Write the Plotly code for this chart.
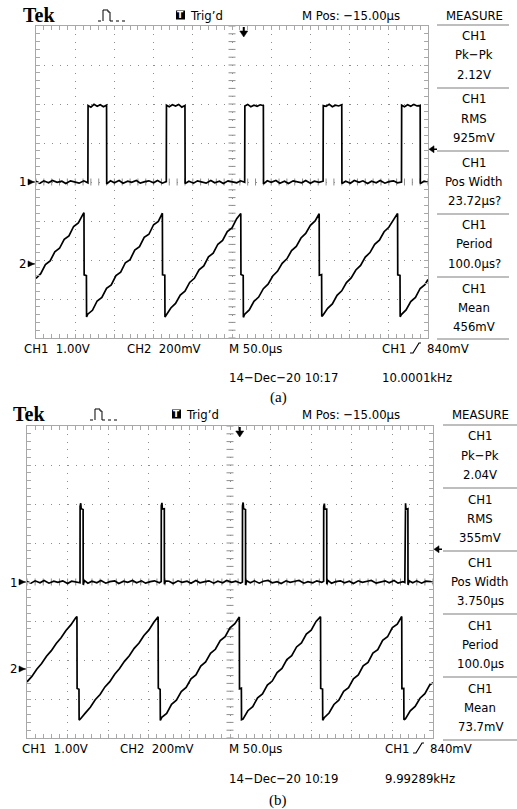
import numpy as np
import plotly.graph_objects as go

W, H = 517, 809

# ---------------- captured screen (a): rectangular pulse + sawtooth ----------------
# CH1: time (us) / volts
a_ch1_t = [0, 5, 10, 16, 21, 27, 33, 38, 44, 50, 55, 61, 66.2,
           66.4, 70, 74, 78, 82, 86, 90.0,
           90.2, 95, 100, 106, 111, 117, 122, 128, 133, 139, 144, 150, 155, 161, 166.2,
           166.4, 170, 174, 178, 182, 186, 190.0,
           190.2, 195, 201, 206, 212, 217, 223, 228, 234, 239, 245, 250, 256, 261, 266.2,
           266.4, 270, 274, 278, 282, 286, 290.0,
           290.2, 295, 300, 306, 311, 317, 322, 328, 333, 339, 344, 350, 355, 361, 366.2,
           366.4, 370, 374, 378, 382, 386, 390.0,
           390.2, 395, 401, 406, 412, 417, 423, 428, 434, 439, 445, 450, 456, 461, 466.2,
           466.4, 470, 474, 478, 482, 486, 490.0,
           490.2, 495, 500]
a_ch1_v = [0.02, -0.03, 0.03, -0.02, 0.04, -0.01, 0.02, -0.04, 0.03, 0.00, -0.03, 0.03, -0.02,
           1.96, 1.92, 1.99, 1.94, 1.98, 1.93, 1.97,
           -0.05, 0.03, -0.02, 0.04, -0.03, 0.02, -0.01, 0.04, -0.03, 0.01, 0.03, -0.02, 0.04, -0.03, 0.01,
           1.97, 1.93, 1.98, 1.95, 1.99, 1.92, 1.96,
           -0.04, 0.02, -0.03, 0.03, 0.00, -0.03, 0.04, -0.02, 0.02, -0.04, 0.03, 0.01, -0.02, 0.03, -0.01,
           1.95, 1.99, 1.93, 1.97, 1.94, 1.98, 1.96,
           -0.05, 0.03, -0.01, 0.04, -0.03, 0.02, -0.04, 0.03, 0.00, -0.02, 0.04, -0.03, 0.02, -0.01, 0.02,
           1.96, 1.94, 1.99, 1.93, 1.97, 1.95, 1.98,
           -0.04, 0.02, -0.03, 0.04, -0.01, 0.03, -0.04, 0.02, -0.02, 0.04, -0.03, 0.01, 0.03, -0.02, 0.00,
           1.97, 1.93, 1.98, 1.94, 1.99, 1.95, 1.96,
           -0.04, 0.02, -0.01]

# CH2: time (us) / volts
a_ch2_t = [0, 6, 12, 18, 24, 30, 36, 42, 48, 54, 60, 61.2,
           61.4, 64.3, 64.5,
           66, 72, 78, 84, 90, 96, 102, 108, 114, 120, 126, 132, 138, 144, 150, 156, 161.2,
           161.4, 164.3, 164.5,
           166, 172, 178, 184, 190, 196, 202, 208, 214, 220, 226, 232, 238, 244, 250, 256, 261.2,
           261.4, 264.3, 264.5,
           266, 272, 278, 284, 290, 296, 302, 308, 314, 320, 326, 332, 338, 344, 350, 356, 361.2,
           361.4, 364.3, 364.5,
           366, 372, 378, 384, 390, 396, 402, 408, 414, 420, 426, 432, 438, 444, 450, 456, 461.2,
           461.4, 464.3, 464.5,
           466, 472, 478, 484, 490, 496, 500]
a_ch2_v = [-0.075, -0.050, -0.004, 0.015, 0.062, 0.080, 0.126, 0.144, 0.192, 0.210, 0.255, 0.262,
           -0.056, -0.060, -0.272,
           -0.258, -0.238, -0.190, -0.172, -0.125, -0.108, -0.060, -0.042, 0.006, 0.022, 0.071, 0.088,
           0.136, 0.152, 0.201, 0.218, 0.260,
           -0.056, -0.058, -0.272,
           -0.262, -0.226, -0.203, -0.160, -0.140, -0.095, -0.074, -0.030, -0.010, 0.036, 0.055, 0.101,
           0.120, 0.166, 0.185, 0.232, 0.258,
           -0.054, -0.060, -0.274,
           -0.259, -0.236, -0.192, -0.170, -0.127, -0.104, -0.062, -0.038, 0.003, 0.026, 0.068, 0.090,
           0.133, 0.156, 0.198, 0.220, 0.257,
           -0.058, -0.055, -0.270,
           -0.263, -0.228, -0.205, -0.161, -0.138, -0.096, -0.072, -0.031, -0.008, 0.035, 0.058, 0.100,
           0.122, 0.165, 0.188, 0.230, 0.259,
           -0.056, -0.059, -0.271,
           -0.260, -0.236, -0.193, -0.172, -0.126, -0.107, -0.080]

# ---------------- captured screen (b): narrow pulse + sawtooth ----------------
b_ch1_t = [0, 5, 10, 16, 21, 27, 33, 38, 44, 50, 55, 60, 65.3,
           65.4, 66.2, 66.7, 69.1, 69.2, 70.5,
           75, 80, 86, 91, 97, 102, 108, 113, 119, 124, 130, 135, 141, 146, 152, 157, 163, 165.3,
           165.4, 166.2, 166.7, 169.1, 169.2, 170.5,
           175, 180, 186, 191, 197, 202, 208, 213, 219, 224, 230, 235, 241, 246, 252, 257, 263, 265.3,
           265.4, 266.2, 266.7, 269.1, 269.2, 270.5,
           275, 280, 286, 291, 297, 302, 308, 313, 319, 324, 330, 335, 341, 346, 352, 357, 363, 365.3,
           365.4, 366.2, 366.7, 369.1, 369.2, 370.5,
           375, 380, 386, 391, 397, 402, 408, 413, 419, 424, 430, 435, 441, 446, 452, 457, 463, 465.3,
           465.4, 466.2, 466.7, 469.1, 469.2, 470.5,
           475, 480, 486, 491, 497, 500]
b_ch1_v = [0.01, -0.03, 0.03, -0.02, 0.04, -0.03, 0.02, -0.01, 0.03, -0.04, 0.02, 0.00, -0.02,
           1.94, 2.02, 1.88, 1.86, -0.07, 0.04,
           -0.03, 0.02, -0.02, 0.04, -0.03, 0.01, 0.03, -0.04, 0.02, -0.01, 0.04, -0.02, 0.03, -0.03,
           0.01, 0.03, -0.02, 0.01,
           1.96, 2.03, 1.87, 1.88, -0.06, 0.03,
           0.02, -0.04, 0.03, -0.01, 0.02, -0.03, 0.04, -0.02, 0.01, 0.03, -0.03, 0.02, -0.02, 0.04,
           -0.01, 0.02, -0.03, 0.00,
           1.95, 2.04, 1.88, 1.86, -0.08, 0.03,
           -0.02, 0.03, -0.03, 0.02, 0.04, -0.02, 0.01, -0.04, 0.03, -0.01, 0.02, 0.04, -0.03, 0.01,
           -0.02, 0.03, -0.01, 0.02,
           1.93, 2.01, 1.87, 1.87, -0.06, 0.04,
           -0.03, 0.01, 0.03, -0.02, 0.02, -0.04, 0.03, -0.01, 0.02, 0.04, -0.03, 0.00, 0.03, -0.02,
           0.04, -0.03, 0.01, -0.01,
           1.96, 2.02, 1.86, 1.88, -0.07, 0.03,
           -0.02, 0.03, -0.03, 0.02, 0.01, -0.02]

b_ch2_t = [0, 6, 12, 18, 24, 30, 36, 42, 48, 54, 60, 61.5,
           61.7, 64.0, 64.2,
           66, 72, 78, 84, 90, 96, 102, 108, 114, 120, 126, 132, 138, 144, 150, 156, 161.5,
           161.7, 164.0, 164.2,
           166, 172, 178, 184, 190, 196, 202, 208, 214, 220, 226, 232, 238, 244, 250, 256, 261.5,
           261.7, 264.0, 264.2,
           266, 272, 278, 284, 290, 296, 302, 308, 314, 320, 326, 332, 338, 344, 350, 356, 361.5,
           361.7, 364.0, 364.2,
           366, 372, 378, 384, 390, 396, 402, 408, 414, 420, 426, 432, 438, 444, 450, 456, 461.5,
           461.7, 464.0, 464.2,
           466, 472, 478, 484, 490, 496, 500]
b_ch2_v = [-0.066, -0.038, -0.001, 0.028, 0.065, 0.094, 0.131, 0.160, 0.197, 0.226, 0.263, 0.269,
           -0.100, -0.104, -0.262,
           -0.255, -0.225, -0.196, -0.158, -0.131, -0.092, -0.065, -0.027, 0.002, 0.039, 0.068, 0.106,
           0.133, 0.172, 0.199, 0.238, 0.268,
           -0.098, -0.105, -0.264,
           -0.248, -0.228, -0.181, -0.160, -0.116, -0.095, -0.050, -0.030, 0.015, 0.036, 0.080, 0.101,
           0.146, 0.166, 0.211, 0.232, 0.266,
           -0.102, -0.099, -0.260,
           -0.257, -0.214, -0.193, -0.148, -0.128, -0.083, -0.062, -0.018, 0.003, 0.048, 0.068, 0.113,
           0.134, 0.179, 0.199, 0.244, 0.268,
           -0.100, -0.103, -0.263,
           -0.250, -0.226, -0.182, -0.160, -0.115, -0.096, -0.050, -0.031, 0.016, 0.034, 0.081, 0.099,
           0.147, 0.165, 0.212, 0.230, 0.269,
           -0.101, -0.100, -0.261,
           -0.256, -0.215, -0.192, -0.150, -0.127, -0.082, -0.071]

# Readouts shown on each screen
measure_a = [("CH1", "Pk−Pk", "2.12V"), ("CH1", "RMS", "925mV"), ("CH1", "Pos Width", "23.72µs?"),
             ("CH1", "Period", "100.0µs?"), ("CH1", "Mean", "456mV")]
measure_b = [("CH1", "Pk−Pk", "2.04V"), ("CH1", "RMS", "355mV"), ("CH1", "Pos Width", "3.750µs"),
             ("CH1", "Period", "100.0µs"), ("CH1", "Mean", "73.7mV")]
status_a = {"ch1": "CH1  1.00V", "ch2": "CH2  200mV", "time": "M 50.0µs", "trig": "840mV",
            "date": "14−Dec−20 10:17", "freq": "10.0001kHz", "caption": "(a)"}
status_b = {"ch1": "CH1  1.00V", "ch2": "CH2  200mV", "time": "M 50.0µs", "trig": "840mV",
            "date": "14−Dec−20 10:19", "freq": "9.99289kHz", "caption": "(b)"}

for t, v in ((a_ch1_t, a_ch1_v), (a_ch2_t, a_ch2_v), (b_ch1_t, b_ch1_v), (b_ch2_t, b_ch2_v)):
    assert len(t) == len(v)

CH1_SCALE = 1.0   # V/div
CH2_SCALE = 0.2   # V/div
TRIG_LEVEL = 0.84  # V

SCOPE_FONT = "Liberation Sans Narrow, Arial Narrow, DejaVu Sans Condensed, Liberation Sans, sans-serif"
SERIF = "Liberation Serif, Times New Roman, serif"
GRID = "#8e8e8e"
BORDER = "#a8a8a8"


def px(x):
    return x / W


def py(y):
    return 1 - y / H


def ppath(pts, close=False):
    s = "M" + " L".join(f"{px(x):.5f},{py(y):.5f}" for x, y in pts)
    return s + (" Z" if close else "")


fig = go.Figure()
shapes = []
annotations = []


def text(x, y, s, size=13, xanchor="left", family=SCOPE_FONT, color="black"):
    annotations.append(dict(x=px(x), y=py(y), xref="paper", yref="paper", text=s, showarrow=False,
                            xanchor=xanchor, yanchor="middle", font=dict(family=family, size=size, color=color)))


def seg(x0, y0, x1, y1, color="black", width=1, dash=None):
    line = dict(color=color, width=width)
    if dash:
        line["dash"] = dash
    shapes.append(dict(type="line", xref="paper", yref="paper", x0=px(x0), y0=py(y0),
                       x1=px(x1), y1=py(y1), line=line))


def filled(pts, color="black"):
    shapes.append(dict(type="path", xref="paper", yref="paper", path=ppath(pts, True),
                       line=dict(color=color, width=0.5), fillcolor=color))


def panel(p):
    xa, ya, ya2 = p["xaxis"], p["yaxis"], p["yaxis2"]
    x0, x1, y0, y1 = p["box"]
    dx = (x1 - x0) / 10.0
    dy = (y1 - y0) / 8.0
    off = p["ch2_offset"]

    axis_common = dict(showgrid=True, gridcolor=GRID, gridwidth=1, showline=True, linecolor=BORDER,
                       linewidth=1, mirror="ticks", ticks="inside", ticklen=4, tickcolor=BORDER,
                       tickwidth=1, showticklabels=False, zeroline=False, fixedrange=True)
    fig.layout[xa] = dict(domain=[px(x0), px(x1)], range=[0, 500], tick0=0, dtick=50,
                          griddash=f"1px,{dy / 5 - 1:.2f}px", anchor=p["yref"],
                          minor=dict(dtick=10, tick0=0, ticks="inside", ticklen=4, tickcolor=BORDER,
                                     showgrid=False), **axis_common)
    fig.layout[ya] = dict(domain=[py(y1), py(y0)], range=[-4 * CH1_SCALE, 4 * CH1_SCALE], tick0=0,
                          dtick=CH1_SCALE, griddash=f"1px,{dx / 5 - 1:.2f}px", anchor=p["xref"],
                          minor=dict(dtick=CH1_SCALE / 5, tick0=0, ticks="inside", ticklen=4,
                                     tickcolor=BORDER, showgrid=False), **axis_common)
    fig.layout[ya2] = dict(overlaying=p["yref"], anchor=p["xref"], visible=False, fixedrange=True,
                           range=[(-4 - off) * CH2_SCALE, (4 - off) * CH2_SCALE])

    # centre cross graduations (short dashes every fifth of a division)
    gv = [float(k) for k in np.arange(-4, 4.001, 0.2)]
    fig.add_trace(go.Scatter(x=[250.0] * len(gv), y=gv, xaxis=p["xref"], yaxis=p["yref"], mode="markers",
                             marker=dict(symbol="line-ew", size=5, color=GRID, line=dict(color=GRID, width=1)),
                             hoverinfo="skip", showlegend=False))
    gh = [float(k) for k in np.arange(0, 500.1, 10)]
    fig.add_trace(go.Scatter(x=gh, y=[0.0] * len(gh), xaxis=p["xref"], yaxis=p["yref"], mode="markers",
                             marker=dict(symbol="line-ns", size=5, color=GRID, line=dict(color=GRID, width=1)),
                             hoverinfo="skip", showlegend=False))

    # waveforms
    fig.add_trace(go.Scatter(x=p["ch1"][0], y=p["ch1"][1], xaxis=p["xref"], yaxis=p["yref"],
                             mode="lines", line=dict(color="black", width=1.7), hoverinfo="skip",
                             showlegend=False))
    fig.add_trace(go.Scatter(x=p["ch2"][0], y=p["ch2"][1], xaxis=p["xref"], yaxis=p["y2ref"],
                             mode="lines", line=dict(color="black", width=1.7), hoverinfo="skip",
                             showlegend=False))

    # channel ground markers
    gy1 = y0 + 4 * dy
    gy2 = y0 + (4 - off) * dy
    for label, gy in (("1", gy1), ("2", gy2)):
        text(x0 - 8, gy, label, size=13, xanchor="right")
        filled([(x0 - 8, gy - 3), (x0 - 2, gy), (x0 - 8, gy + 3)])
        seg(x0 - 8, gy, x0 - 1, gy, width=1)

    # trigger position (top) and trigger level (right edge)
    tx = x0 + p["trig_t"] / 50 * dx
    seg(tx, y0 + 1, tx, y0 + 6, width=2)
    filled([(tx - 4, y0 + 5), (tx + 4, y0 + 5), (tx, y0 + 11)])
    ly = gy1 - TRIG_LEVEL / CH1_SCALE * dy
    filled([(x1 + 1, ly), (x1 + 6, ly - 3.5), (x1 + 6, ly + 3.5)])
    seg(x1 + 5, ly, x1 + 9, ly, width=1.5)

    # header
    hy = p["header_y"]
    text(p["tek_x"], hy, "<b>Tek</b>", size=20, family=SERIF)
    ix = p["icon_x"]
    seg(ix, hy + 6, ix + 5, hy + 6, width=1, dash="dot")
    shapes.append(dict(type="path", xref="paper", yref="paper",
                       path=ppath([(ix + 5, hy + 6), (ix + 5, hy - 5), (ix + 10, hy - 5), (ix + 10, hy - 3),
                                   (ix + 12, hy - 3), (ix + 12, hy + 6)]),
                       line=dict(color="black", width=1)))
    seg(ix + 12, hy + 6, ix + 28, hy + 6, width=1, dash="dot")
    sx = p["trigd_x"]
    shapes.append(dict(type="rect", xref="paper", yref="paper", x0=px(sx), x1=px(sx + 9),
                       y0=py(hy + 4.5), y1=py(hy - 4.5), fillcolor="black", line=dict(width=0)))
    text(sx + 4.5, hy, "<b>T</b>", size=9, xanchor="center", family="DejaVu Sans", color="white")
    text(sx + 12, hy, "Trig’d", size=13)
    text(300, hy, "M Pos: −15.00µs", size=13)
    mx = p["measure_x"]
    text(mx, hy, "MEASURE", size=13, xanchor="center")

    # measurement readouts
    sx0, sx1 = p["sep_x"]
    for i, s in enumerate(p["sep_y"]):
        seg(sx0, s, sx1, s, color=BORDER, width=1.5)
        if i < len(p["measure"]):
            for j, line in enumerate(p["measure"][i]):
                text(mx, s + p["line_off"][j], line, size=13, xanchor="center")

    # status line
    st = p["status"]
    r1, r2 = p["row_y"]
    cols = p["cols"]
    text(cols[0], r1, st["ch1"])
    text(cols[1], r1, st["ch2"])
    text(cols[2], r1, st["time"])
    text(cols[3], r1, "CH1")
    ex = cols[3] + 30
    shapes.append(dict(type="path", xref="paper", yref="paper",
                       path=ppath([(ex, r1 + 5), (ex + 3, r1 + 5), (ex + 9, r1 - 5), (ex + 11, r1 - 5)]),
                       line=dict(color="black", width=1.2)))
    text(ex + 15, r1, st["trig"])
    text(cols[2], r2, st["date"])
    text(cols[3], r2, st["freq"])
    text(p["caption_x"], p["caption_y"], st["caption"], size=15, xanchor="center", family=SERIF)


panel(dict(xaxis="xaxis", yaxis="yaxis", yaxis2="yaxis2", xref="x", yref="y", y2ref="y2",
           box=(36, 428, 26, 338), ch2_offset=-2.1, ch1=(a_ch1_t, a_ch1_v), ch2=(a_ch2_t, a_ch2_v),
           trig_t=265, header_y=15, tek_x=21, icon_x=98, trigd_x=176, measure_x=474,
           sep_x=(437, 509), sep_y=[25, 88, 151, 214, 277, 339], line_off=[11, 30, 49],
           measure=measure_a, status=status_a, row_y=(348, 378), cols=(22, 125, 227, 380),
           caption_x=278, caption_y=397))

panel(dict(xaxis="xaxis2", yaxis="yaxis3", yaxis2="yaxis4", xref="x2", yref="y3", y2ref="y4",
           box=(27, 433, 426, 738), ch2_offset=-2.23, ch1=(b_ch1_t, b_ch1_v), ch2=(b_ch2_t, b_ch2_v),
           trig_t=262, header_y=414, tek_x=11, icon_x=90, trigd_x=172, measure_x=480,
           sep_x=(443, 517), sep_y=[425, 488, 551, 614, 677, 740], line_off=[11, 30, 49],
           measure=measure_b, status=status_b, row_y=(748, 778), cols=(20, 118, 227, 383),
           caption_x=278, caption_y=800))

fig.update_layout(width=W, height=H, margin=dict(l=0, r=0, t=0, b=0), paper_bgcolor="white",
                  plot_bgcolor="white", showlegend=False, shapes=shapes, annotations=annotations)

fig.write_html("out.html", config={"displayModeBar": False})
